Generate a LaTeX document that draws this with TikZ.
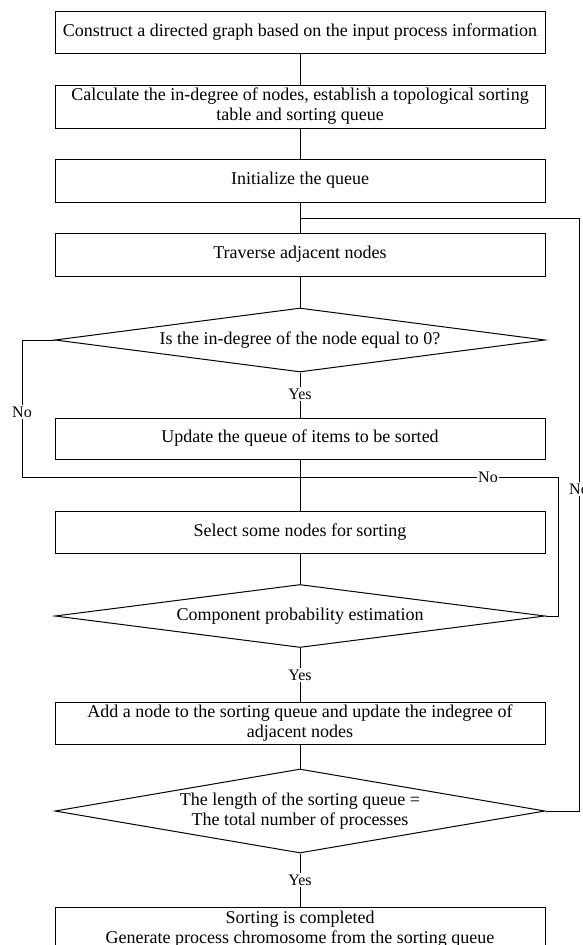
\documentclass[tikz,border=0pt]{standalone}
\usepackage{fontspec}
\setmainfont{Liberation Serif}
\usetikzlibrary{shapes.geometric}
\begin{document}
\begin{tikzpicture}[x=1pt,y=1pt,
  every node/.style={font=\fontsize{18}{20}\selectfont},
  box/.style={draw, line width=1pt, minimum width=490pt, minimum height=42pt, inner sep=1pt, align=center},
  dec/.style={draw, line width=1pt, diamond, minimum width=490pt, inner sep=0pt, align=center, aspect=7},
  lbl/.style={inner sep=1.2pt, font=\fontsize{16}{18}\selectfont},
  conn/.style={line width=1pt}]
\useasboundingbox (0,0) rectangle (582,-945);
% boxes
\node[box] (b1) at (300,-32) {Construct a directed graph based on the input process information};
\node[box, minimum height=43pt] (b2) at (300,-106.5) {Calculate the in-degree of nodes, establish a topological sorting\\table and sorting queue};
\node[box, minimum height=43pt] (b3) at (300,-180.5) {Initialize the queue};
\coordinate (j1) at (300,-218);
\node[box, minimum height=43pt] (b4) at (300,-254.5) {Traverse adjacent nodes};
\node[dec, minimum height=64pt] (d1) at (300,-340) {Is the in-degree of the node equal to 0?};
\node[lbl] (y1) at (300,-394) {Yes};
\node[box, minimum height=41pt] (b5) at (300,-438.5) {Update the queue of items to be sorted};
\coordinate (j2) at (300,-477);
\node[box] (b6) at (300,-532) {Select some nodes for sorting};
\node[dec, minimum height=63pt] (d2) at (300,-616) {Component probability estimation};
\node[lbl] (y2) at (300,-675) {Yes};
\node[box] (b7) at (300,-723) {Add a node to the sorting queue and update the indegree of\\adjacent nodes};
\node[dec, minimum height=84pt, aspect=5.8] (d3) at (300,-811) {The length of the sorting queue =\\The total number of processes};
\node[lbl] (y3) at (300,-880) {Yes};
\node[box, minimum height=43pt] (b8) at (300,-929) {Sorting is completed\\Generate process chromosome from the sorting queue};
% side labels
\node[lbl] (n1) at (22,-412) {No};
\node[lbl] (n2) at (488,-477) {No};
\node[lbl] (n3) at (579,-489) {No};
\coordinate (c1) at (22,-477);
\coordinate (c2) at (558,-477);
\coordinate (c3) at (579,-218);
% main flow
\draw[conn] (b1) -- (b2);
\draw[conn] (b2) -- (b3);
\draw[conn] (b3) -- (b4);
\draw[conn] (b4) -- (d1);
\draw[conn] (d1) -- (y1) -- (b5);
\draw[conn] (b5) -- (b6);
\draw[conn] (b6) -- (d2);
\draw[conn] (d2) -- (y2) -- (b7);
\draw[conn] (b7) -- (d3);
\draw[conn] (d3) -- (y3) -- (b8);
% loops
\draw[conn] (d1.west) -| (n1) -- (c1) -- (j2);
\draw[conn] (d2.east) -| (c2) -- (n2) -- (j2);
\draw[conn] (d3.east) -| (n3) -- (c3) -- (j1);
\end{tikzpicture}
\end{document}
